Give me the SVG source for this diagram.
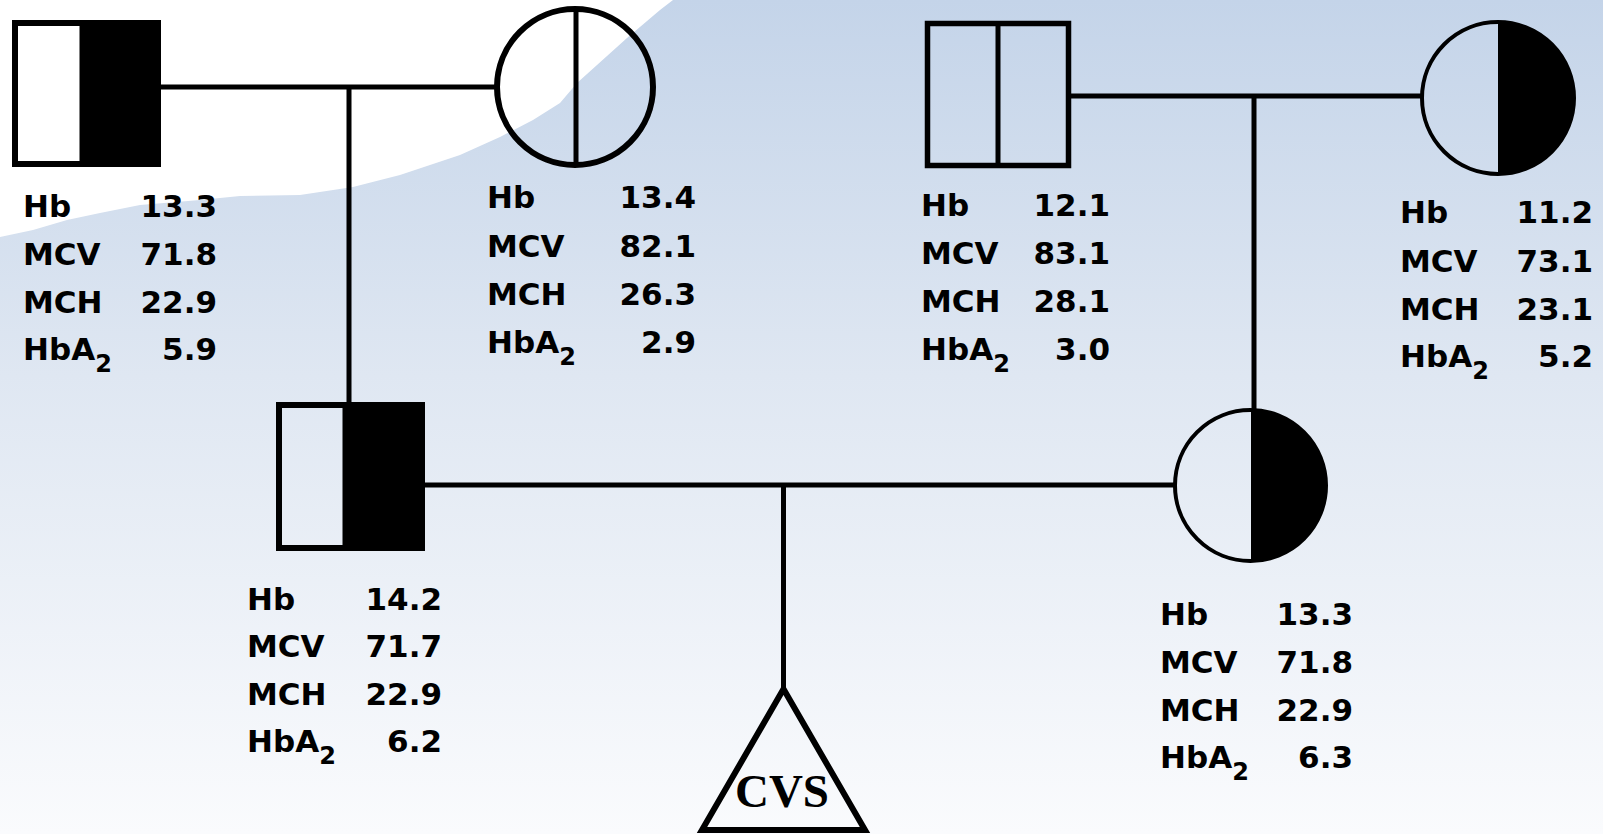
<svg xmlns="http://www.w3.org/2000/svg" width="1603" height="834" viewBox="0 0 1603 834">
  <defs>
    <linearGradient id="bg" x1="0" y1="0" x2="0" y2="1">
      <stop offset="0" stop-color="#c4d4e9"/>
      <stop offset="0.45" stop-color="#dfe7f2"/>
      <stop offset="1" stop-color="#fafbfd"/>
    </linearGradient>
    <style>
      .ln { stroke: #000; stroke-width: 5; fill: none; }
      .out { stroke: #000; fill: none; }
      .blk { fill: #000; stroke: none; }
      .lab { font-family: "DejaVu Sans", "Liberation Sans", sans-serif; font-weight: bold; font-size: 31px; fill: #000; }
      .val { font-family: "DejaVu Sans", "Liberation Sans", sans-serif; font-weight: bold; font-size: 31px; fill: #000; text-anchor: end; }
      .sub { font-size: 24px; }
      .cvs { font-family: "Liberation Serif", "Times New Roman", serif; font-weight: bold; font-size: 47px; fill: #000; text-anchor: middle; }
    </style>
  </defs>

  <rect x="0" y="0" width="1603" height="834" fill="url(#bg)"/>
  <polygon fill="#ffffff" points="0,0 673,0 660,10 627,38 577,83 560,103 533,120 500,137 460,155 400,175 353,187 300,195 240,196 200,200 140,205 100,213 67,220 33,230 0,237"/>

  <g id="connectors">
    <line class="ln" x1="158" y1="87" x2="497" y2="87"/>
    <line class="ln" x1="349" y1="87" x2="349" y2="403"/>
    <line class="ln" x1="1069" y1="96" x2="1421" y2="96"/>
    <line class="ln" x1="1254" y1="96" x2="1254" y2="409"/>
    <line class="ln" x1="422" y1="485" x2="1174" y2="485"/>
    <line class="ln" x1="783.5" y1="485" x2="783.5" y2="689"/>
  </g>

  <g id="grandfather1">
    <rect class="blk" x="79.5" y="23" width="78.5" height="141"/>
    <rect class="out" x="15" y="23" width="143" height="141" stroke-width="6"/>
    <text class="lab" x="23" y="217">Hb</text><text class="val" x="217" y="217">13.3</text>
    <text class="lab" x="23" y="265">MCV</text><text class="val" x="217" y="265">71.8</text>
    <text class="lab" x="23" y="313">MCH</text><text class="val" x="217" y="313">22.9</text>
    <text class="lab" x="23" y="360">HbA<tspan class="sub" dy="12">2</tspan></text><text class="val" x="217" y="360">5.9</text>
  </g>

  <g id="grandmother1">
    <circle class="out" cx="575" cy="87" r="78" stroke-width="6"/>
    <line class="ln" x1="576" y1="10" x2="576" y2="164"/>
    <text class="lab" x="487" y="208">Hb</text><text class="val" x="696" y="208">13.4</text>
    <text class="lab" x="487" y="257">MCV</text><text class="val" x="696" y="257">82.1</text>
    <text class="lab" x="487" y="305">MCH</text><text class="val" x="696" y="305">26.3</text>
    <text class="lab" x="487" y="353">HbA<tspan class="sub" dy="12">2</tspan></text><text class="val" x="696" y="353">2.9</text>
  </g>

  <g id="grandfather2">
    <rect class="out" x="927.5" y="23.5" width="141" height="142" stroke-width="5.5"/>
    <line class="ln" x1="998" y1="23.5" x2="998" y2="165.5"/>
    <text class="lab" x="921" y="216">Hb</text><text class="val" x="1110" y="216">12.1</text>
    <text class="lab" x="921" y="264">MCV</text><text class="val" x="1110" y="264">83.1</text>
    <text class="lab" x="921" y="312">MCH</text><text class="val" x="1110" y="312">28.1</text>
    <text class="lab" x="921" y="360">HbA<tspan class="sub" dy="12">2</tspan></text><text class="val" x="1110" y="360">3.0</text>
  </g>

  <g id="grandmother2">
    <path class="blk" d="M1498,22 A76,76 0 0 1 1498,174 Z"/>
    <circle class="out" cx="1498" cy="98" r="76" stroke-width="4"/>
    <text class="lab" x="1400" y="223">Hb</text><text class="val" x="1593" y="223">11.2</text>
    <text class="lab" x="1400" y="272">MCV</text><text class="val" x="1593" y="272">73.1</text>
    <text class="lab" x="1400" y="320">MCH</text><text class="val" x="1593" y="320">23.1</text>
    <text class="lab" x="1400" y="367">HbA<tspan class="sub" dy="12">2</tspan></text><text class="val" x="1593" y="367">5.2</text>
  </g>

  <g id="father">
    <rect class="blk" x="342.5" y="405" width="79.5" height="143"/>
    <rect class="out" x="279" y="405" width="143" height="143" stroke-width="6"/>
    <text class="lab" x="247" y="610">Hb</text><text class="val" x="442" y="610">14.2</text>
    <text class="lab" x="247" y="657">MCV</text><text class="val" x="442" y="657">71.7</text>
    <text class="lab" x="247" y="705">MCH</text><text class="val" x="442" y="705">22.9</text>
    <text class="lab" x="247" y="752">HbA<tspan class="sub" dy="12">2</tspan></text><text class="val" x="442" y="752">6.2</text>
  </g>

  <g id="mother">
    <path class="blk" d="M1251,410 A75.5,75.5 0 0 1 1251,561 Z"/>
    <circle class="out" cx="1250.5" cy="485.5" r="75.5" stroke-width="4"/>
    <text class="lab" x="1160" y="625">Hb</text><text class="val" x="1353" y="625">13.3</text>
    <text class="lab" x="1160" y="673">MCV</text><text class="val" x="1353" y="673">71.8</text>
    <text class="lab" x="1160" y="721">MCH</text><text class="val" x="1353" y="721">22.9</text>
    <text class="lab" x="1160" y="768">HbA<tspan class="sub" dy="12">2</tspan></text><text class="val" x="1353" y="768">6.3</text>
  </g>

  <g id="cvs">
    <polygon class="out" points="783.5,689 702,830 865,830" stroke-width="6" stroke-linejoin="miter"/>
    <text class="cvs" x="782" y="807">CVS</text>
  </g>
</svg>
